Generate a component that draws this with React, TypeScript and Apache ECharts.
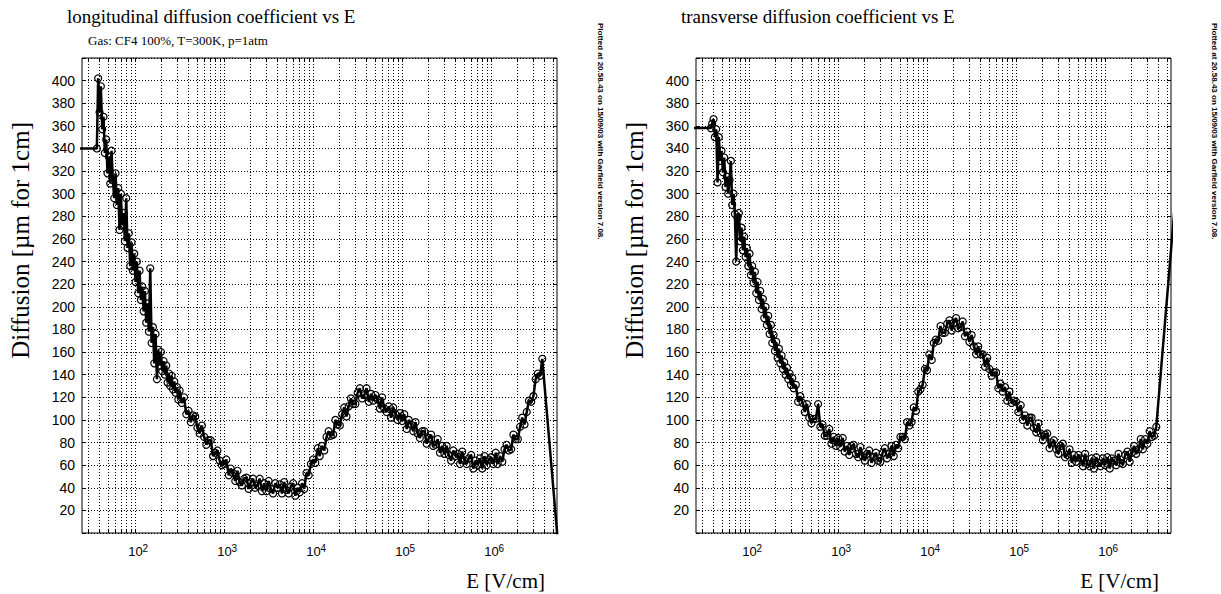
import React, { useEffect, useRef } from 'react';
import * as echarts from 'echarts';

// Electric field E [V/cm] (shared by both curves); first and last points lie outside the axis range
const fieldE = [
  20,
  37.6, 38.9, 40.3, 41.7, 43.2, 44.7, 46.2, 47.9, 49.5, 51.3, 53.1, 55.0, 56.9, 58.9, 61.0, 63.1, 65.3, 67.6, 70.0, 72.4,
  75.0, 77.6, 80.4, 83.2, 86.1, 89.1, 92.3, 95.5, 98.9, 102.3, 105.9, 109.6, 113.5, 117.5, 121.6, 125.9, 130.3, 134.9, 139.6, 144.5,
  149.6, 154.9, 160.3, 166.0, 171.8, 177.8, 184.1, 190.5, 197.2, 204.2, 211.3, 218.8, 226.5, 234.4, 242.7, 251.2, 260.0, 269.2, 278.6, 288.4,
  298.5, 309.0,
  320, 339, 359, 380, 403, 427, 452, 479, 507, 537, 569, 603, 638, 676, 716, 759, 804, 851, 902, 955,
  1010, 1070, 1140, 1200, 1270, 1350, 1430, 1510, 1600, 1700, 1800, 1910, 2020, 2140, 2260, 2400, 2540, 2690, 2850, 3020,
  3200, 3390, 3590, 3800, 4030, 4270, 4520, 4790, 5070, 5370, 5690, 6030, 6380, 6760, 7160, 7590, 8040, 8510, 9020, 9550,
  10100, 10700, 11400, 12000, 12700, 13500, 14300, 15100, 16000, 17000, 18000, 19100, 20200, 21400, 22600, 24000, 25400, 26900, 28500, 30200,
  32000, 33900, 35900, 38000, 40300, 42700, 45200, 47900, 50700, 53700, 56900, 60300, 63800, 67600, 71600, 75900, 80400, 85100, 90200, 95500,
  1.01e5, 1.07e5, 1.14e5, 1.2e5, 1.27e5, 1.35e5, 1.43e5, 1.51e5, 1.6e5, 1.7e5, 1.8e5, 1.91e5, 2.02e5, 2.14e5, 2.26e5, 2.4e5, 2.54e5, 2.69e5, 2.85e5, 3.02e5,
  3.2e5, 3.39e5, 3.59e5, 3.8e5, 4.03e5, 4.27e5, 4.52e5, 4.79e5, 5.07e5, 5.37e5, 5.69e5, 6.03e5, 6.38e5, 6.76e5, 7.16e5, 7.59e5, 8.04e5, 8.51e5, 9.02e5, 9.55e5,
  1.01e6, 1.07e6, 1.14e6, 1.2e6, 1.27e6, 1.35e6, 1.43e6, 1.51e6, 1.6e6, 1.7e6, 1.8e6, 1.91e6, 2.02e6, 2.14e6, 2.26e6, 2.4e6, 2.54e6, 2.69e6, 2.85e6, 3.02e6,
  3.2e6, 3.39e6, 3.59e6, 3.8e6,
  6.3e6,
];

// Longitudinal diffusion [um for 1cm]
const longitudinalD = [
  340,
  340, 402, 372, 395, 357, 368, 336, 348, 318, 333, 309, 338, 312, 296, 318, 290, 305, 268, 300, 272,
  283, 258, 296, 252, 265, 236, 257, 232, 247, 222, 240, 212, 232, 206, 218, 196, 214, 186, 203, 178,
  234, 168, 182, 150, 176, 136, 162, 148, 160, 143, 152, 140, 148, 133, 141, 130, 139, 127, 134, 124,
  129, 118,
  126, 115, 120, 105, 108, 98, 104, 103, 93, 88, 95, 85, 78, 82, 82, 68, 71, 73, 64, 60,
  61, 65, 51, 57, 53, 46, 55, 45, 42, 48, 49, 39, 45, 48, 40, 42, 48, 37, 44, 37,
  46, 39, 35, 44, 40, 43, 35, 45, 38, 35, 41, 44, 33, 40, 36, 44, 39, 53, 51, 61,
  65, 62, 75, 68, 77, 73, 85, 90, 86, 87, 100, 96, 95, 105, 111, 103, 112, 119, 114, 114,
  124, 128, 119, 122, 128, 116, 123, 117, 122, 118, 110, 120, 110, 107, 112, 102, 111, 105, 100, 106,
  99, 105, 92, 100, 96, 90, 98, 88, 84, 90, 90, 79, 84, 87, 77, 78, 83, 71, 77, 70,
  77, 69, 64, 73, 68, 70, 61, 72, 64, 61, 66, 69, 57, 64, 60, 66, 57, 68, 60, 65,
  67, 61, 71, 61, 68, 63, 74, 78, 73, 74, 87, 83, 83, 94, 102, 96, 107, 117, 116, 121,
  136, 141, 139, 154,
  -49,
];

// Transverse diffusion [um for 1cm]
const transverseD = [
  358,
  358, 362, 366, 350, 357, 310, 350, 329, 338, 319, 332, 306, 315, 300, 312, 329, 290, 300, 282, 240,
  279, 283, 258, 270, 250, 262, 244, 252, 236, 247, 228, 236, 221, 231, 212, 222, 206, 214, 198, 207,
  190, 200, 184, 192, 176, 184, 168, 175, 161, 169, 155, 163, 150, 157, 145, 151, 140, 146, 136, 141,
  131, 137,
  128, 131, 116, 121, 115, 107, 114, 102, 97, 101, 101, 114, 94, 96, 86, 86, 92, 79, 85, 77,
  84, 76, 84, 72, 77, 69, 77, 78, 70, 67, 76, 68, 64, 70, 73, 62, 67, 71, 64, 63,
  71, 75, 66, 70, 77, 68, 78, 75, 85, 85, 83, 98, 95, 98, 111, 108, 125, 127, 131, 145,
  144, 158, 153, 168, 171, 170, 183, 177, 177, 185, 188, 179, 186, 190, 181, 182, 187, 174, 178, 169,
  175, 165, 158, 165, 158, 158, 147, 155, 145, 139, 142, 142, 128, 132, 125, 129, 117, 125, 115, 117,
  116, 107, 113, 100, 104, 95, 102, 102, 93, 89, 97, 88, 82, 87, 88, 75, 80, 82, 74, 70,
  77, 79, 67, 69, 74, 62, 69, 63, 69, 66, 59, 70, 61, 59, 66, 57, 67, 62, 59, 66,
  60, 67, 57, 66, 64, 60, 70, 62, 61, 69, 72, 63, 71, 77, 70, 74, 83, 74, 83, 79,
  90, 85, 86, 94,
  301,
];

// Vertical grid / tick positions on the log E axis
const gridTickE = [
  30, 40, 50, 60, 70, 80, 90,
  100, 200, 300, 400, 500, 600, 700, 800, 900,
  1000, 2000, 3000, 4000, 5000, 6000, 7000, 8000, 9000,
  1e4, 2e4, 3e4, 4e4, 5e4, 6e4, 7e4, 8e4, 9e4,
  1e5, 2e5, 3e5, 4e5, 5e5, 6e5, 7e5, 8e5, 9e5,
  1e6, 2e6, 3e6, 4e6, 5e6,
];

const panelTitles = ['longitudinal diffusion coefficient vs E', 'transverse diffusion coefficient vs E'];
const gasText = 'Gas: CF4 100%, T=300K, p=1atm';
const plottedText = 'Plotted at 20.58.43 on 15/09/03 with Garfield version 7.08.';
const yName = 'Diffusion [\u00b5m for 1cm]';
const xName = 'E [V/cm]';

const X_MIN = 25.6;
const X_MAX = 5.56e6;
const Y_MIN = 0;
const Y_MAX = 420;
const Y_STEP = 20;

const SERIF = '"Liberation Serif", "Times New Roman", serif';
const SANS = '"Liberation Sans", Helvetica, Arial, sans-serif';

const GRID_LEFTS = [82, 696];
const GRID_TOP = 58;
const GRID_SIZE = 475;

export default function App() {
  const ref = useRef<HTMLDivElement>(null);

  useEffect(() => {
    if (!ref.current) return;
    const chart = echarts.init(ref.current, null, { renderer: 'svg' });

    const grids = GRID_LEFTS.map((left) => ({
      left,
      top: GRID_TOP,
      width: GRID_SIZE,
      height: GRID_SIZE,
      show: true,
      borderColor: '#000',
      borderWidth: 1,
      backgroundColor: 'transparent',
    }));

    const xAxes = GRID_LEFTS.map((_, i) => ({
      type: 'log',
      logBase: 10,
      gridIndex: i,
      min: X_MIN,
      max: X_MAX,
      axisLine: { show: false },
      axisTick: { show: false },
      splitLine: { show: false },
      axisLabel: {
        margin: 10,
        showMinLabel: true,
        showMaxLabel: true,
        formatter: (v: number) => {
          const lg = Math.log10(v);
          const p = Math.round(lg);
          return Math.abs(lg - p) < 1e-6 ? `{b|10}{s|${p}}` : '';
        },
        rich: {
          b: { fontSize: 13, fontFamily: SANS, color: '#000', padding: [0, 0, 0, 7] },
          s: { fontSize: 10, fontFamily: SANS, color: '#000', verticalAlign: 'top', padding: [0, 0, 7, 0] },
        },
      },
    }));

    const yAxes: any[] = [];
    GRID_LEFTS.forEach((_, i) => {
      yAxes.push({
        type: 'value',
        gridIndex: i,
        min: Y_MIN,
        max: Y_MAX,
        interval: Y_STEP,
        axisLine: { show: false },
        axisTick: { show: true, inside: true, length: 4, lineStyle: { color: '#000', width: 1 } },
        splitLine: { show: true, lineStyle: { color: '#000', width: 1, type: [1, 2] } },
        axisLabel: {
          margin: 7,
          fontSize: 14,
          fontFamily: SANS,
          color: '#000',
          formatter: (v: number) => (v === Y_MIN || v === Y_MAX ? '' : String(v)),
        },
      });
      yAxes.push({
        type: 'value',
        gridIndex: i,
        position: 'right',
        min: Y_MIN,
        max: Y_MAX,
        interval: Y_STEP,
        axisLine: { show: false },
        axisTick: { show: true, inside: true, length: 4, lineStyle: { color: '#000', width: 1 } },
        splitLine: { show: false },
        axisLabel: { show: false },
      });
    });

    const tickSeries = GRID_LEFTS.map((_, i) => ({
      type: 'custom',
      xAxisIndex: i,
      yAxisIndex: i * 2,
      silent: true,
      clip: false,
      z: 1,
      data: gridTickE.map((e) => [e, 0]),
      renderItem: (params: any, api: any) => {
        const pt = api.coord([api.value(0), api.value(1)]);
        const cs = params.coordSys;
        const x = Math.round(pt[0]) + 0.5;
        const top = cs.y;
        const bottom = cs.y + cs.height;
        return {
          type: 'group',
          children: [
            { type: 'line', shape: { x1: x, y1: top, x2: x, y2: bottom }, style: { stroke: '#000', lineWidth: 1, lineDash: [1, 2] } },
            { type: 'line', shape: { x1: x, y1: bottom, x2: x, y2: bottom - 4 }, style: { stroke: '#000', lineWidth: 1 } },
            { type: 'line', shape: { x1: x, y1: top, x2: x, y2: top + 4 }, style: { stroke: '#000', lineWidth: 1 } },
          ],
        };
      },
    }));

    const curves = [longitudinalD, transverseD].map((d, i) => ({
      type: 'line',
      xAxisIndex: i,
      yAxisIndex: i * 2,
      data: fieldE.map((e, k) => [e, d[k]]),
      symbol: 'circle',
      symbolSize: 7,
      clip: true,
      z: 3,
      itemStyle: { color: 'rgba(0,0,0,0)', borderColor: '#000', borderWidth: 1.2 },
      lineStyle: { color: '#000', width: 2.5 },
      emphasis: { disabled: true },
    }));

    const graphics: any[] = [];
    GRID_LEFTS.forEach((left, i) => {
      graphics.push({
        type: 'text',
        x: left - 15,
        y: 16,
        style: { text: panelTitles[i], font: `19px ${SERIF}`, fill: '#000', align: 'left', verticalAlign: 'middle', textAlign: 'left', textVerticalAlign: 'middle' },
      });
      graphics.push({
        type: 'text',
        x: left - 62,
        y: 122,
        rotation: Math.PI / 2,
        style: { text: yName, font: `25px ${SERIF}`, fill: '#000', align: 'right', verticalAlign: 'middle', textAlign: 'right', textVerticalAlign: 'middle' },
      });
      graphics.push({
        type: 'text',
        x: left + GRID_SIZE - 12,
        y: 581,
        style: { text: xName, font: `21px ${SERIF}`, fill: '#000', align: 'right', verticalAlign: 'middle', textAlign: 'right', textVerticalAlign: 'middle' },
      });
      graphics.push({
        type: 'text',
        x: left + GRID_SIZE + 43,
        y: 23,
        rotation: -Math.PI / 2,
        style: { text: plottedText, font: `bold 8px ${SANS}`, fill: '#000', align: 'left', verticalAlign: 'middle', textAlign: 'left', textVerticalAlign: 'middle' },
      });
    });
    graphics.push({
      type: 'text',
      x: 88,
      y: 40,
      style: { text: gasText, font: `13px ${SERIF}`, fill: '#000', align: 'left', verticalAlign: 'middle', textAlign: 'left', textVerticalAlign: 'middle' },
    });

    chart.setOption({
      animation: false,
      backgroundColor: '#fff',
      grid: grids,
      xAxis: xAxes,
      yAxis: yAxes,
      series: [...tickSeries, ...curves],
      graphic: { elements: graphics },
    });

    return () => chart.dispose();
  }, []);

  return <div ref={ref} style={{ position: 'absolute', left: 0, top: 0, width: 1221, height: 594, background: '#fff' }} />;
}
